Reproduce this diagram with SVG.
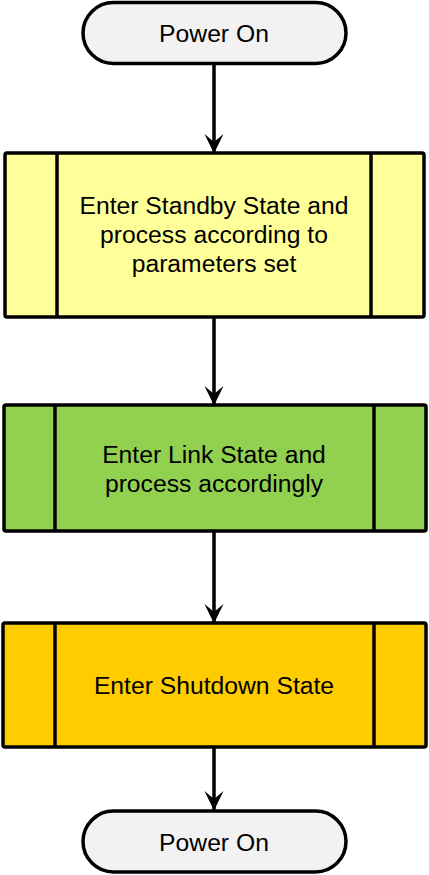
<svg xmlns="http://www.w3.org/2000/svg" width="429" height="875" viewBox="0 0 429 875">
<style>
.box{stroke:#000;stroke-width:3.5}
.div{stroke:#000;stroke-width:3.5}
.term{fill:#F2F2F2;stroke:#000;stroke-width:3.5}
.lbl{font-family:"Liberation Sans",Arial,sans-serif;font-size:24.7px;fill:#000;text-anchor:middle}
.conn{stroke:#000;stroke-width:3.5;fill:none}
</style>
<defs>
<marker id="arr" markerUnits="userSpaceOnUse" viewBox="0 0 20 20" refX="19" refY="10" markerWidth="20" markerHeight="20" orient="auto">
<path d="M0,0.5 L19.5,10 L0,19.5 L8,10 z" fill="#000"/>
</marker>
</defs>
<g id="connectors">
<line class="conn" x1="214" y1="63" x2="214" y2="153" marker-end="url(#arr)"/>
<line class="conn" x1="214" y1="318" x2="214" y2="405" marker-end="url(#arr)"/>
<line class="conn" x1="214" y1="532" x2="214" y2="623" marker-end="url(#arr)"/>
<line class="conn" x1="214" y1="748" x2="214" y2="810" marker-end="url(#arr)"/>
</g>
<g id="start">
<rect class="term" x="83" y="2.5" width="263" height="61" rx="30.5"/>
<text class="lbl" x="214" y="42">Power On</text>
</g>
<g id="standby">
<rect class="box" x="5" y="153" width="419" height="164" rx="2" fill="#FFFF99"/>
<line class="div" x1="57" y1="153" x2="57" y2="317"/>
<line class="div" x1="371" y1="153" x2="371" y2="317"/>
<text class="lbl" x="214" y="214">Enter Standby State and</text>
<text class="lbl" x="214" y="243">process according to</text>
<text class="lbl" x="214" y="272">parameters set</text>
</g>
<g id="link">
<rect class="box" x="4" y="405" width="422" height="126" rx="2" fill="#92D050"/>
<line class="div" x1="55" y1="405" x2="55" y2="531"/>
<line class="div" x1="374" y1="405" x2="374" y2="531"/>
<text class="lbl" x="214" y="463">Enter Link State and</text>
<text class="lbl" x="214" y="492">process accordingly</text>
</g>
<g id="shutdown">
<rect class="box" x="3" y="623" width="423" height="124" rx="2" fill="#FFCC00"/>
<line class="div" x1="55" y1="623" x2="55" y2="747"/>
<line class="div" x1="374" y1="623" x2="374" y2="747"/>
<text class="lbl" x="214" y="694">Enter Shutdown State</text>
</g>
<g id="end">
<rect class="term" x="83" y="811" width="263" height="61" rx="30.5"/>
<text class="lbl" x="214" y="851">Power On</text>
</g>
</svg>
